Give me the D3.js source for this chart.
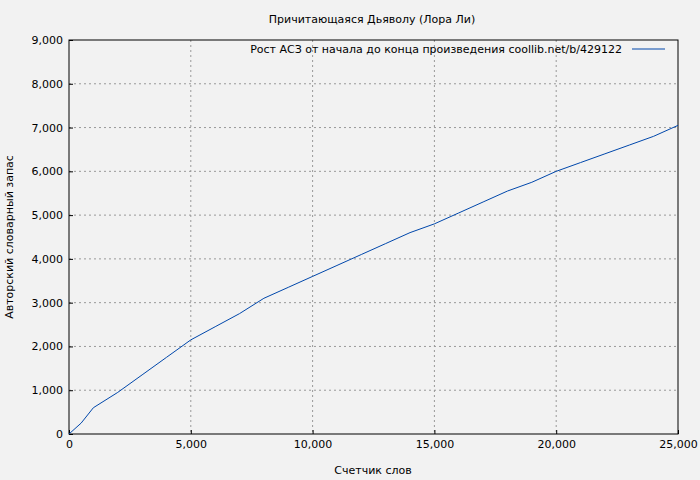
<!DOCTYPE html>
<html><head><meta charset="utf-8">
<script src="https://cdn.jsdelivr.net/npm/d3@7"></script>
<style>body{margin:0;background:#f2f2f2}svg{display:block}text{font-family:"DejaVu Sans",sans-serif;font-size:11px;fill:#000}</style>
</head><body><svg width="700" height="480"></svg>
<script>
const words=[0,500,1000,2000,3000,4000,5000,6000,7000,8000,9000,10000,11000,12000,13000,14000,15000,16000,17000,18000,19000,20000,21000,22000,23000,24000,25000];
const vocab=[0,250,600,950,1350,1750,2150,2450,2750,3100,3350,3600,3850,4100,4350,4600,4800,5050,5300,5550,5750,6000,6200,6400,6600,6800,7050];
const xTicks=[0,5000,10000,15000,20000,25000];
const yTicks=[0,1000,2000,3000,4000,5000,6000,7000,8000,9000];
const svg=d3.select("svg");
svg.append("rect").attr("width",700).attr("height",480).attr("fill","#f2f2f2");
const L=69,R=678,T=40,B=434;
const x=d3.scaleLinear().domain([0,25000]).range([L,R]);
const y=d3.scaleLinear().domain([0,9000]).range([B,T]);
const g=svg.append("g");
g.selectAll(".gx").data(xTicks.slice(1,-1)).join("line").attr("x1",d=>x(d)).attr("x2",d=>x(d)).attr("y1",T).attr("y2",B).attr("stroke","#999").attr("stroke-dasharray","2,3");
g.selectAll(".gy").data(yTicks.slice(1,-1)).join("line").attr("y1",d=>y(d)).attr("y2",d=>y(d)).attr("x1",L).attr("x2",R).attr("stroke","#999").attr("stroke-dasharray","2,3");
svg.append("g").attr("transform",`translate(0,${B})`).call(d3.axisBottom(x).tickValues(xTicks).tickSize(-4).tickPadding(6)).call(a=>a.select(".domain").remove());
svg.append("g").attr("transform",`translate(${L},0)`).call(d3.axisLeft(y).tickValues(yTicks).tickSize(-4).tickPadding(6)).call(a=>a.select(".domain").remove());
svg.selectAll(".tick text").style("font-family","DejaVu Sans").style("font-size","11px");
svg.append("rect").attr("x",L).attr("y",T).attr("width",R-L).attr("height",B-T).attr("fill","none").attr("stroke","#000");
svg.append("path").datum(words.map((w,i)=>[w,vocab[i]])).attr("d",d3.line().x(d=>x(d[0])).y(d=>y(d[1]))).attr("fill","none").attr("stroke","#0047ab").attr("stroke-width",1);
svg.append("text").attr("x",372).attr("y",23).attr("text-anchor","middle").text("Причитающаяся Дьяволу (Лора Ли)");
svg.append("text").attr("x",373).attr("y",474).attr("text-anchor","middle").text("Счетчик слов");
svg.append("text").attr("transform","translate(13,237) rotate(-90)").attr("text-anchor","middle").text("Авторский словарный запас");
svg.append("text").attr("x",622).attr("y",53).attr("text-anchor","end").text("Рост АСЗ от начала до конца произведения coollib.net/b/429122");
svg.append("line").attr("x1",632).attr("x2",665).attr("y1",49).attr("y2",49).attr("stroke","#0047ab");
</script></body></html>
